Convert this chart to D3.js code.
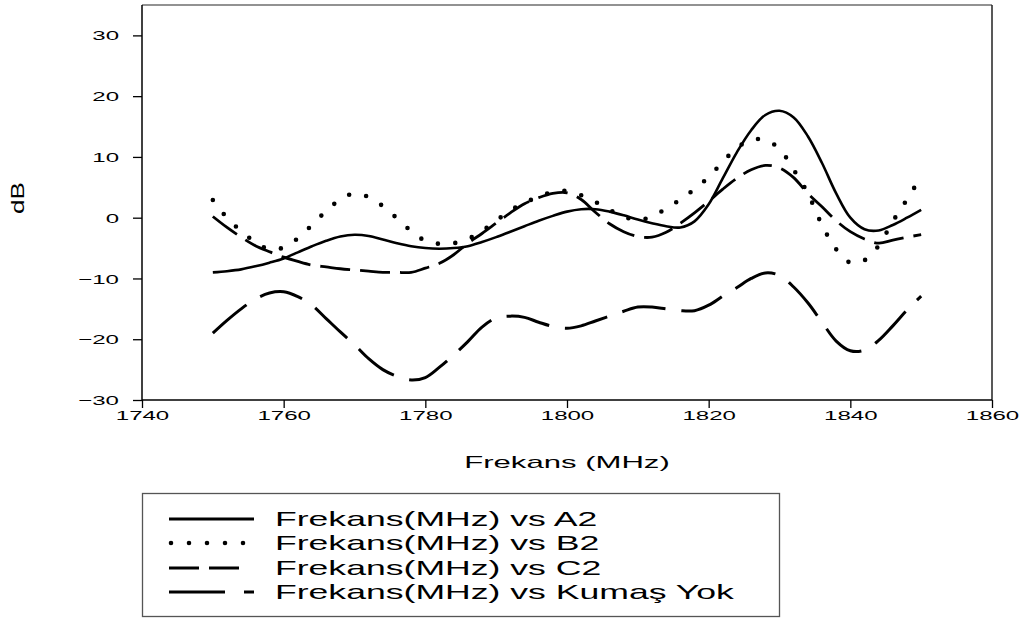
<!DOCTYPE html>
<html>
<head>
<meta charset="utf-8">
<script src="https://cdn.jsdelivr.net/npm/d3@7"></script>
<style>
  html, body { margin: 0; padding: 0; background: #fff; }
  svg { display: block; font-family: "Liberation Sans", Arial, sans-serif; }
</style>
</head>
<body>
<svg id="chart" width="1028" height="620"></svg>
<script>
// ---- data ----
const freqA = [1750,1752,1754,1756,1758,1760,1762,1764,1766,1768,1770,1772,1774,1776,1778,1780,1782,1784,1786,1788,1790,1792,1794,1796,1798,1800,1802,1804,1806,1808,1810,1812,1814,1816,1818,1820,1822,1824,1826,1828,1830,1832,1834,1836,1838,1840,1842,1844,1846,1848,1850];
const seriesA2 = [-9.0,-8.8,-8.5,-8.0,-7.4,-6.7,-5.7,-4.7,-3.8,-3.1,-2.8,-3.0,-3.6,-4.2,-4.7,-5.0,-5.1,-5.0,-4.7,-4.0,-3.2,-2.3,-1.4,-0.5,0.3,1.0,1.4,1.4,1.0,0.4,-0.3,-0.9,-1.4,-1.6,-0.6,2.2,6.5,10.8,14.4,16.9,17.6,16.5,13.4,9.0,4.0,0.0,-1.9,-2.1,-1.2,0.0,1.3];
const seriesB2 = [2.9,0.0,-2.2,-4.0,-5.2,-4.9,-3.4,-1.2,1.1,3.0,4.0,3.4,1.9,-0.1,-2.2,-3.8,-4.3,-4.2,-3.5,-2.2,-0.5,1.2,2.4,3.5,4.2,4.4,3.7,2.6,1.3,0.2,-0.4,0.2,1.5,3.0,4.7,6.7,9.2,11.5,12.8,12.8,11.3,7.9,4.0,-1.2,-5.2,-7.4,-7.0,-4.6,-0.6,3.0,6.8];
const seriesC2 = [0.2,-1.6,-3.2,-4.6,-5.6,-6.5,-7.2,-7.8,-8.1,-8.4,-8.6,-8.8,-9.0,-9.0,-9.0,-8.3,-7.5,-6.1,-4.2,-2.6,-0.9,0.8,2.3,3.3,4.0,4.1,3.0,0.9,-1.0,-2.3,-3.1,-3.2,-2.4,-0.9,0.8,2.7,4.7,6.5,7.9,8.6,8.2,6.6,4.0,1.8,-0.5,-2.3,-3.5,-4.2,-3.7,-3.2,-2.8];
const seriesKumas = [-19.0,-16.9,-15.0,-13.4,-12.4,-12.2,-13.0,-14.4,-16.6,-18.8,-20.9,-23.2,-25.0,-26.1,-26.7,-26.3,-24.6,-22.6,-20.4,-18.0,-16.5,-16.2,-16.4,-17.2,-17.9,-18.2,-17.8,-17.0,-16.2,-15.4,-14.7,-14.7,-15.0,-15.3,-15.3,-14.4,-12.9,-11.5,-10.0,-9.1,-9.5,-11.4,-14.0,-17.2,-20.3,-21.9,-21.8,-20.2,-17.8,-15.2,-12.9];
const seriesNames = ["Frekans(MHz) vs A2","Frekans(MHz) vs B2","Frekans(MHz) vs C2","Frekans(MHz) vs Kumaş Yok"];
const xTicks = [1740,1760,1780,1800,1820,1840,1860];
const yTicks = [-30,-20,-10,0,10,20,30];
const xTitle = "Frekans (MHz)";
const yTitle = "dB";

// ---- layout ----
const L = 142, R = 992, T = 5, B = 400;
const svg = d3.select("#chart");
const x = d3.scaleLinear().domain([1740,1860]).range([L,R]);
const y = d3.scaleLinear().domain([-30,35]).range([B,T]);

// frame top/right
svg.append("line").attr("x1",L).attr("x2",R).attr("y1",T).attr("y2",T).attr("stroke","#6e6e6e").attr("stroke-width",1.5);
svg.append("line").attr("x1",R).attr("x2",R).attr("y1",T).attr("y2",B).attr("stroke","#222").attr("stroke-width",1.5);

// axes
const gx = svg.append("g").attr("transform",`translate(0,${B})`)
  .call(d3.axisBottom(x).tickValues(xTicks).tickFormat(d3.format("d")).tickSize(8).tickSizeOuter(0));
const gy = svg.append("g").attr("transform",`translate(${L},0)`)
  .call(d3.axisLeft(y).tickValues(yTicks).tickFormat(d3.format("d")).tickSize(9).tickSizeOuter(0));
[gx, gy].forEach(g => {
  g.select(".domain").attr("stroke","#000").attr("stroke-width",1.5);
  g.selectAll(".tick line").attr("stroke","#000").attr("stroke-width",1.3);
});
gy.select(".domain").attr("d", `M0,${T}V${B}`);
gx.select(".domain").attr("d", `M${L},0H${R}`);
gx.selectAll(".tick text").attr("x",0).attr("y",0).attr("dy","0.35em")
  .attr("transform","translate(0,15) scale(1.85,1)")
  .attr("font-size",13).attr("fill","#000").attr("font-family","Liberation Sans, Arial, sans-serif");
gy.selectAll(".tick text").attr("x",0).attr("y",0).attr("dy","0.35em")
  .attr("text-anchor","end")
  .attr("transform","translate(-23,0) scale(1.85,1)")
  .attr("font-size",13).attr("fill","#000").attr("font-family","Liberation Sans, Arial, sans-serif");

// axis titles
svg.append("text").text(xTitle).attr("text-anchor","middle").attr("dy","0.35em")
  .attr("transform",`translate(${(L+R)/2},462) scale(1.83,1)`)
  .attr("font-size",17).attr("fill","#000");
svg.append("text").text(yTitle).attr("text-anchor","middle").attr("dy","0.35em")
  .attr("transform","translate(18,198) rotate(-90) scale(1.45,1)")
  .attr("font-size",18).attr("fill","#000");

// series
const styles = [
  {dash:null, w:2.6, cap:"butt"},
  {dash:"0 17.5", w:4.6, cap:"round"},
  {dash:"30 10", w:2.8, cap:"butt"},
  {dash:"44 16", w:3.0, cap:"butt"}
];
const allSeries = [seriesA2, seriesB2, seriesC2, seriesKumas];
const line = d3.line().x(d => x(d[0])).y(d => y(d[1])).curve(d3.curveCatmullRom.alpha(0.5));
allSeries.forEach((s,i) => {
  const pts = freqA.map((f,j) => [f, s[j]]);
  const p = svg.append("path").attr("d", line(pts)).attr("fill","none")
    .attr("stroke","#000").attr("stroke-width",styles[i].w).attr("stroke-linecap",styles[i].cap)
    .attr("stroke-linejoin","round");
  if (styles[i].dash) p.attr("stroke-dasharray", styles[i].dash);
});

// legend
svg.append("rect").attr("x",142.5).attr("y",493.5).attr("width",637).attr("height",123)
  .attr("fill","#fff").attr("stroke","#555").attr("stroke-width",1.3);
const rowY = [519, 543, 568, 592];
const lg = svg.append("g");
// samples
lg.append("line").attr("x1",169).attr("x2",254).attr("y1",rowY[0]).attr("y2",rowY[0]).attr("stroke","#000").attr("stroke-width",3);
lg.append("line").attr("x1",171).attr("x2",245).attr("y1",rowY[1]).attr("y2",rowY[1]).attr("stroke","#000").attr("stroke-width",4.6).attr("stroke-linecap","round").attr("stroke-dasharray","0 18");
lg.append("line").attr("x1",169).attr("x2",240).attr("y1",rowY[2]).attr("y2",rowY[2]).attr("stroke","#000").attr("stroke-width",3).attr("stroke-dasharray","30 10");
lg.append("line").attr("x1",169).attr("x2",254).attr("y1",rowY[3]).attr("y2",rowY[3]).attr("stroke","#000").attr("stroke-width",3).attr("stroke-dasharray","56 19 10 40");
seriesNames.forEach((n,i) => {
  lg.append("text").text(n).attr("dy","0.35em")
    .attr("transform",`translate(275,${rowY[i]}) scale(1.78,1)`)
    .attr("font-size",20).attr("fill","#000");
});
</script>
</body>
</html>
